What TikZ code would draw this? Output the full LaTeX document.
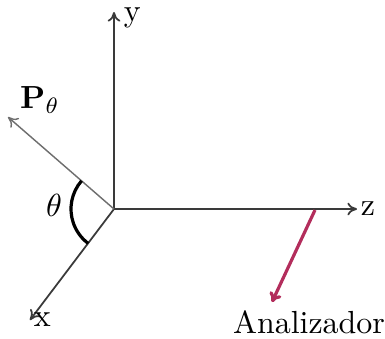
\documentclass[tikz,border=0pt]{standalone}
\usetikzlibrary{arrows.meta,calc}
\definecolor{ink}{HTML}{3A3A3A}
\definecolor{muted}{HTML}{6E6E6E}
\definecolor{crimson}{HTML}{B32D5C}
\tikzset{>={To[length=3pt,width=4pt]},
  axis/.style={->,draw=ink,line width=.55pt},
  polar/.style={->,draw=muted,line width=.45pt},
  anglearc/.style={draw=black,line width=1pt},
  probe/.style={->,draw=crimson,line width=1pt},
  axislabel/.style={font=\normalsize,inner sep=1pt}}

\begin{document}
\begin{tikzpicture}[x=0.011cm,y=-0.011cm]
\useasboundingbox(0,0)rectangle(385,338);
\coordinate(O)at(114,209);
\coordinate(ytip)at(114,12);\coordinate(ztip)at(357,209);
\coordinate(xtip)at(30,320);\coordinate(ptip)at(8,117);
\coordinate(A)at(315,210);\coordinate(atip)at(272,302);
\draw[axis](O)--(ytip);\node[axislabel,anchor=north west]at(120,4){y};
\draw[axis](O)--(ztip);\node[axislabel,anchor=west]at(ztip){z};
\draw[axis](O)--(xtip);\node[axislabel,anchor=west]at(xtip){x};
\draw[polar](O)--(ptip);
\node[axislabel]at(40,100){$\mathbf{P}_\theta$};
\draw[anglearc]($(O)+(-139:43)$)arc[start angle=-139,end angle=-233,radius=43];
\node[axislabel]at(54,205){$\theta$};
\draw[probe](A)--(atip);
\node[axislabel]at(309,322){Analizador};
\end{tikzpicture}
\end{document}
